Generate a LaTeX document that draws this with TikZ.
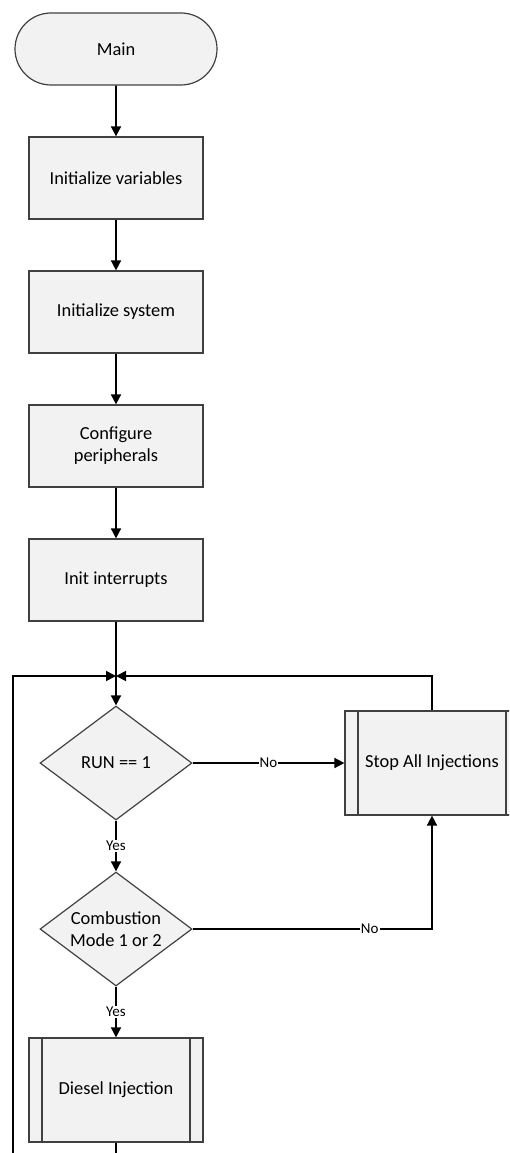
\documentclass[tikz,border=0pt]{standalone}
\usepackage{fontspec}
\setmainfont{Carlito}
\usetikzlibrary{shapes.geometric,shapes.misc,arrows.meta}
\definecolor{boxfill}{HTML}{F2F2F2}
\definecolor{boxline}{HTML}{404040}
\begin{document}
\begin{tikzpicture}[x=1pt,y=-1pt,
  base/.style={draw=boxline,fill=boxfill,line width=1.2pt,inner sep=0pt,
    font=\fontsize{18.4}{22}\selectfont,align=center},
  terminal/.style={base,rounded rectangle,minimum width=202pt,minimum height=72pt},
  process/.style={base,rectangle,minimum width=174pt,minimum height=82pt},
  subproc/.style={base,rectangle,minimum width=174pt,minimum height=104pt,
    path picture={
      \draw[boxline,line width=1.2pt]
        ([xshift=13pt]path picture bounding box.north west) --
        ([xshift=13pt]path picture bounding box.south west)
        ([xshift=-13pt]path picture bounding box.north east) --
        ([xshift=-13pt]path picture bounding box.south east);}},
  decision/.style={base,diamond,aspect=1.333,minimum width=152pt,minimum height=114pt},
  flow/.style={line width=1.6pt,black},
  arr/.style={flow,-{Triangle[length=10pt,width=10pt]}},
  lbl/.style={fill=white,inner sep=1pt,font=\fontsize{15}{18}\selectfont}]
\clip (0,0) rectangle (509,1153);

% main sequence
\node[terminal] (main) at (116,49) {Main};
\node[process] (vars) at (116,178) {Initialize variables};
\node[process] (sys) at (116,312) {Initialize system};
\node[process] (periph) at (116,446) {Configure\\peripherals};
\node[process] (irq) at (116,580) {Init interrupts};

% loop body
\coordinate (join) at (116,676);
\node[decision] (run) at (116,763) {RUN == 1};
\node[subproc] (stop) at (432,763) {Stop All Injections};
\node[decision] (mode) at (116,929) {Combustion\\Mode 1 or 2};
\node[subproc] (diesel) at (116,1090) {Diesel Injection};
\coordinate (dieselout) at (116,1153);
\coordinate (loopback) at (13,1153);

\draw[arr] (main) -- (vars);
\draw[arr] (vars) -- (sys);
\draw[arr] (sys) -- (periph);
\draw[arr] (periph) -- (irq);
\draw[arr] (irq) -- (run);

\draw[arr] (run) -- node[lbl]{No} (stop);
\draw[arr] (run) -- node[lbl]{Yes} (mode);
\draw[arr] (mode) -| node[lbl,pos=0.37]{No} (stop);
\draw[arr] (mode) -- node[lbl]{Yes} (diesel);

% loop returns into the junction above the first decision
\draw[arr] (stop.north) |- (join);
\draw[flow] (diesel) -- (dieselout);
\draw[arr] (loopback) |- (join);
\end{tikzpicture}
\end{document}
